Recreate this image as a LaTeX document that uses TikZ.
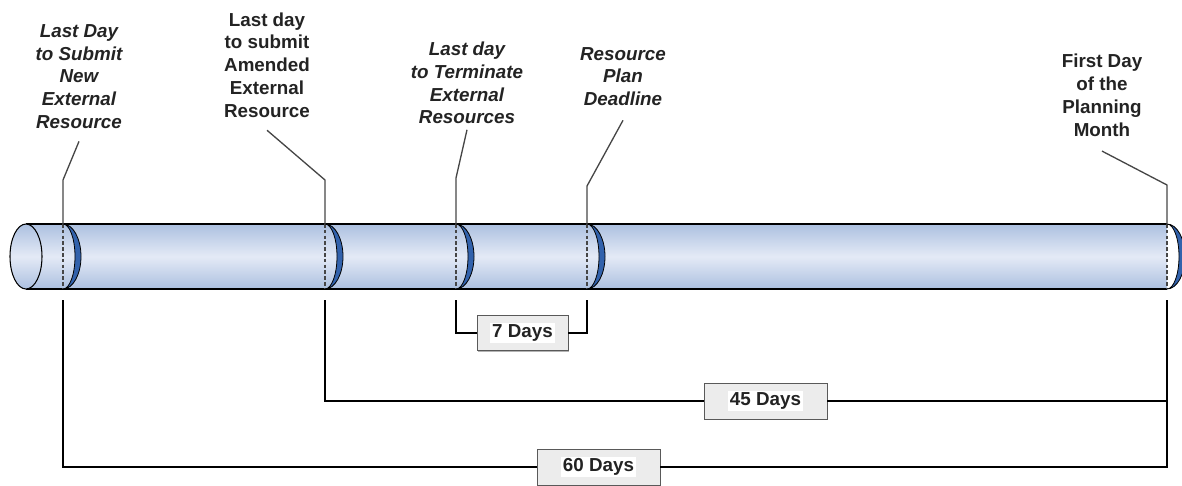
\documentclass[tikz,border=0pt]{standalone}
\usepackage{fontspec}
\setmainfont{Liberation Sans}
\usetikzlibrary{positioning,calc,shadows}
\definecolor{tubo}{RGB}{172,192,224}
\definecolor{tuboclaro}{RGB}{228,234,246}
\definecolor{anillo}{RGB}{50,98,172}
\definecolor{letra}{RGB}{35,35,35}
\definecolor{linea}{RGB}{70,70,70}
\newcommand\blanco[1]{{\setlength{\fboxsep}{1pt}\colorbox{white}{#1}}}
\tikzset{
  etiq/.style={font=\fontsize{10.7}{13}\selectfont\bfseries,text=letra,
               align=center,inner sep=0pt},
  etiqi/.style={etiq,font=\fontsize{10.7}{13}\selectfont\bfseries\itshape},
  guia/.style={linea,line width=0.75pt},
  cota/.style={black,line width=1.1pt},
  corte/.style={linea,dash pattern=on 2pt off 1.3pt,line width=0.7pt},
  dias/.style={draw=gray!70!black,fill=gray!15,text=letra,
               font=\fontsize{10.7}{13}\selectfont\bfseries,
               minimum width=2.46cm,minimum height=0.72cm,inner sep=0pt,
               drop shadow={shadow xshift=0.6pt,shadow yshift=-0.6pt,opacity=0.6}},
}

\begin{document}
\begin{tikzpicture}[x=0.02cm,y=-0.02cm]
  \useasboundingbox (0,0) rectangle (1182,485);
  % tubo
  \shade[top color=tubo,bottom color=tubo,middle color=tuboclaro] (26,224) rectangle (1167,289);
  \draw[line width=0.7pt] (26,224) -- (1167,224) (26,289) -- (1167,289);
  \shadedraw[draw=black,line width=0.6pt,top color=tubo,bottom color=tubo,middle color=tuboclaro]
    (26,256.5) ellipse[x radius=16,y radius=32.5];
  \foreach \n/\x in {1/63,2/325,3/456,4/587,5/1167}{
    \coordinate (a\n) at (\x,224);
    \coordinate (b\n) at (\x,289);
    \coordinate (c\n) at (\x,300);
    \draw[corte] (a\n) -- (b\n);
    \filldraw[fill=anillo,draw=black,line width=0.45pt] (a\n)
      arc[start angle=-90,end angle=90,x radius=18,y radius=32.5]
      arc[start angle=90,end angle=-90,x radius=12,y radius=32.5] -- cycle;
  }
  % etiquetas
  \node[etiqi] (l1) at (79,76.5) {Last Day\\to Submit\\New\\External\\Resource};
  \node[etiq] (l2) at (267,65) {Last day\\to submit\\Amended\\External\\Resource};
  \node[etiqi] (l3) at (467,83) {Last day\\to Terminate\\External\\Resources};
  \node[etiqi] (l4) at (623,76.5) {Resource\\Plan\\Deadline};
  \node[etiq] (l5) at (1102,95.5) {First Day\\of the\\Planning\\Month};
  \foreach \n/\y/\s in {1/180/7,2/180/7,3/178/3,4/186/8,5/185/8}
    \draw[guia] (a\n) -- ++(0,{\y-224}) -- ([yshift=-\s pt]l\n.south);
  % cotas
  \node[dias,minimum width=1.82cm,minimum height=0.7cm] (d7) at (522.5,333) {\blanco{7 Days}};
  \node[dias] (d45) at (765.5,401) {\blanco{45 Days}};
  \node[dias] (d60) at (598.5,467) {\blanco{60 Days}};
  \draw[cota] (c3) |- (d7.west) (d7.east) -| (c4);
  \draw[cota] (c2) |- (d45.west) (d45.east) -| (c5);
  \draw[cota] (c1) |- (d60.west) (d60.east) -| (c5);
\end{tikzpicture}
\end{document}
